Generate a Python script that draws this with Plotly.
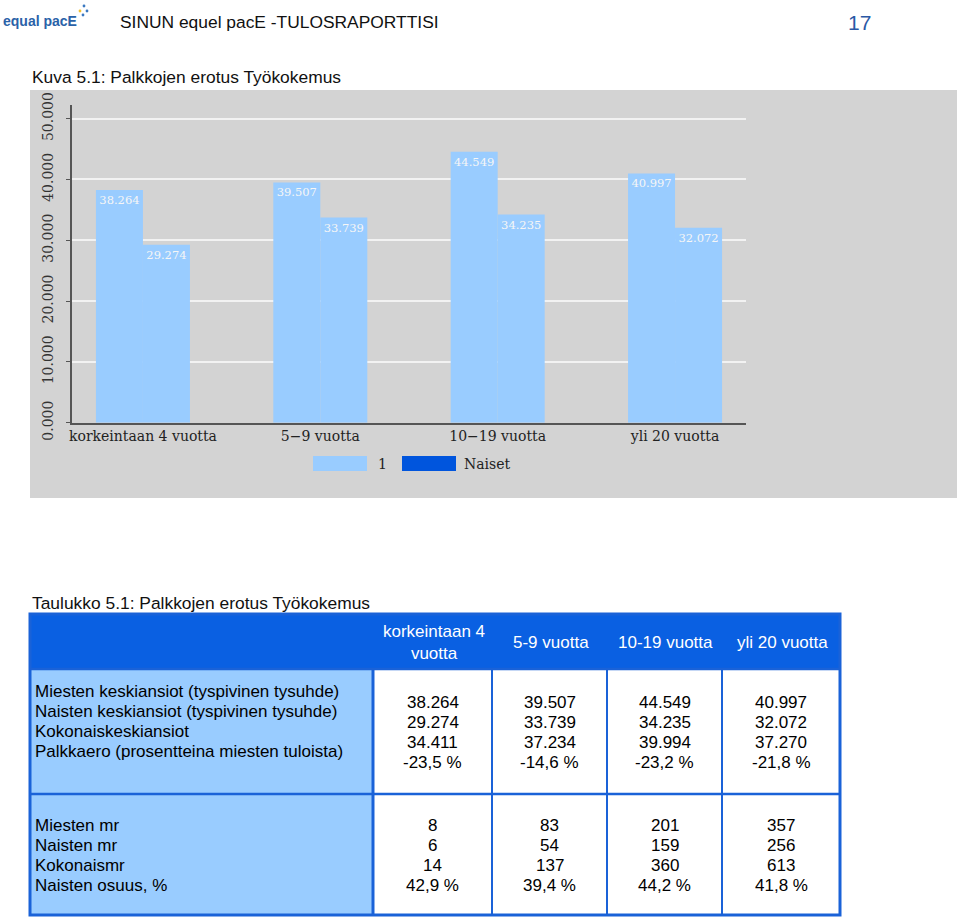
import plotly.graph_objects as go

# ---------------- data ----------------
categories = ["korkeintaan 4 vuotta", "5\u22129 vuotta", "10\u221219 vuotta", "yli 20 vuotta"]
table_headers = ["korkeintaan 4<br>vuotta", "5-9 vuotta", "10-19 vuotta", "yli 20 vuotta"]
series_names = ["1", "Naiset"]
men_pay = [38.264, 39.507, 44.549, 40.997]
women_pay = [29.274, 33.739, 34.235, 32.072]
total_pay = [34.411, 37.234, 39.994, 37.270]
pay_gap = [-23.5, -14.6, -23.2, -21.8]
men_n = [8, 83, 201, 357]
women_n = [6, 54, 159, 256]
total_n = [14, 137, 360, 613]
women_share = [42.9, 39.4, 44.2, 41.8]
row1_labels = ["Miesten keskiansiot (tyspivinen tysuhde)",
               "Naisten keskiansiot (tyspivinen tysuhde)",
               "Kokonaiskeskiansiot",
               "Palkkaero (prosentteina miesten tuloista)"]
row2_labels = ["Miesten mr", "Naisten mr", "Kokonaismr", "Naisten osuus, %"]

# ---------------- styles ----------------
W, H = 960, 922
BAR_COLOR = "#99ccff"
LEGEND_COLORS = ["#99ccff", "#0055dd"]
PANEL = "#d3d3d3"
HEAD_BLUE = "#0a60e2"
LINE_BLUE = "#1a62d8"
SERIF = "DejaVu Serif"
SANS = "Liberation Sans, Arial, sans-serif"
TFS = 17  # table font size


def X(px):
    return px / W


def Y(py):
    return 1 - py / H


def fmt_dec(v, d):
    return f"{v:.{d}f}".replace(".", ",")


fig = go.Figure()
for name, vals in zip(series_names, [men_pay, women_pay]):
    fig.add_trace(go.Bar(
        x=categories, y=vals, name=name, marker=dict(color=BAR_COLOR, line=dict(width=0)),
        text=[f"{v:.3f}" for v in vals], textposition="inside", insidetextanchor="end",
        constraintext="none", textangle=0,
        textfont=dict(family=SERIF, size=11.5, color="#f6f6f6"),
        showlegend=False, hoverinfo="skip"))

shapes = []
ann = []

# grey chart panel
shapes.append(dict(type="rect", xref="paper", yref="paper", x0=X(30), x1=X(957), y0=Y(498), y1=Y(90),
                   fillcolor=PANEL, line=dict(width=0), layer="below"))

# legend (manual)
leg = [(313, 367, 376), (402, 456, 462)]
for (a, b, t), name, col in zip(leg, series_names, LEGEND_COLORS):
    shapes.append(dict(type="rect", xref="paper", yref="paper", x0=X(a), x1=X(b), y0=Y(471), y1=Y(456),
                       fillcolor=col, line=dict(width=0)))
    ann.append(dict(x=X(t), y=Y(464), xref="paper", yref="paper", text=name, showarrow=False,
                    xanchor="left", yanchor="middle", font=dict(family=SERIF, size=14, color="#222")))

# page header
ann.append(dict(x=X(1), y=Y(21), xref="paper", yref="paper", text="<b>equal pacE</b>", showarrow=False,
                xanchor="left", yanchor="middle", font=dict(family=SANS, size=14, color="#2a62a8")))
for (cx, cy, col) in [(80, 11, "#f2c230"), (84, 6, "#3a78c0"), (87, 11, "#3a78c0"), (83, 15, "#3a78c0")]:
    shapes.append(dict(type="circle", xref="paper", yref="paper", x0=X(cx - 1.4), x1=X(cx + 1.4),
                       y0=Y(cy + 1.4), y1=Y(cy - 1.4), fillcolor=col, line=dict(width=0)))
ann.append(dict(x=X(118), y=Y(22), xref="paper", yref="paper", text="SINUN equel pacE -TULOSRAPORTTISI",
                showarrow=False, xanchor="left", yanchor="middle", font=dict(family=SANS, size=17.4, color="#111")))
ann.append(dict(x=X(859), y=Y(22), xref="paper", yref="paper", text="17", showarrow=False,
                xanchor="center", yanchor="middle", font=dict(family=SANS, size=21, color="#2a58a5")))
ann.append(dict(x=X(30), y=Y(77), xref="paper", yref="paper", text="Kuva 5.1: Palkkojen erotus Työkokemus",
                showarrow=False, xanchor="left", yanchor="middle", font=dict(family=SANS, size=17.4, color="#111")))
ann.append(dict(x=X(30), y=Y(603), xref="paper", yref="paper", text="Taulukko 5.1: Palkkojen erotus Työkokemus",
                showarrow=False, xanchor="left", yanchor="middle", font=dict(family=SANS, size=17.4, color="#111")))

# ---------------- table ----------------
cols = [30, 373, 492, 607, 722, 840]
rows = [614, 669, 794, 915]
shapes.append(dict(type="rect", xref="paper", yref="paper", x0=X(cols[0]), x1=X(cols[-1]),
                   y0=Y(rows[1]), y1=Y(rows[0]), fillcolor=HEAD_BLUE, line=dict(width=0)))
shapes.append(dict(type="rect", xref="paper", yref="paper", x0=X(cols[0]), x1=X(cols[1]),
                   y0=Y(rows[-1]), y1=Y(rows[1]), fillcolor="#99ccff", line=dict(width=0)))
for cx in cols[1:-1]:
    shapes.append(dict(type="line", xref="paper", yref="paper", x0=X(cx), x1=X(cx),
                       y0=Y(rows[-1]), y1=Y(rows[1]), line=dict(color=LINE_BLUE, width=2 if cx != cols[1] else 3)))
for ry in rows[1:-1]:
    shapes.append(dict(type="line", xref="paper", yref="paper", x0=X(cols[0]), x1=X(cols[-1]),
                       y0=Y(ry), y1=Y(ry), line=dict(color=LINE_BLUE, width=2.5)))
shapes.append(dict(type="rect", xref="paper", yref="paper", x0=X(cols[0]), x1=X(cols[-1]),
                   y0=Y(rows[-1]), y1=Y(rows[0]), line=dict(color=LINE_BLUE, width=3), fillcolor="rgba(0,0,0,0)"))

centers = [(cols[i] + cols[i + 1]) / 2 for i in range(1, 5)]
for c, h in zip(centers, table_headers):
    ann.append(dict(x=X(c + 1), y=Y(642), xref="paper", yref="paper", text=h, showarrow=False,
                    xanchor="center", yanchor="middle", font=dict(family=SANS, size=TFS, color="white")))

LS = 20.3
for i, lab in enumerate(row1_labels):
    ann.append(dict(x=X(33), y=Y(691 + i * LS), xref="paper", yref="paper", text=lab, showarrow=False,
                    xanchor="left", yanchor="middle", font=dict(family=SANS, size=TFS, color="black")))
for i, lab in enumerate(row2_labels):
    ann.append(dict(x=X(33), y=Y(825 + i * LS), xref="paper", yref="paper", text=lab, showarrow=False,
                    xanchor="left", yanchor="middle", font=dict(family=SANS, size=TFS, color="black")))

for j, c in enumerate(centers):
    r1 = [f"{men_pay[j]:.3f}", f"{women_pay[j]:.3f}", f"{total_pay[j]:.3f}", fmt_dec(pay_gap[j], 1) + " %"]
    r2 = [str(men_n[j]), str(women_n[j]), str(total_n[j]), fmt_dec(women_share[j], 1) + " %"]
    for i, t in enumerate(r1):
        ann.append(dict(x=X(c), y=Y(702 + i * LS), xref="paper", yref="paper", text=t, showarrow=False,
                        xanchor="center", yanchor="middle", font=dict(family=SANS, size=TFS, color="black")))
    for i, t in enumerate(r2):
        ann.append(dict(x=X(c), y=Y(825 + i * LS), xref="paper", yref="paper", text=t, showarrow=False,
                        xanchor="center", yanchor="middle", font=dict(family=SANS, size=TFS, color="black")))

# ---------------- layout ----------------
fig.update_layout(
    width=W, height=H, margin=dict(l=0, r=0, t=0, b=0, pad=0, autoexpand=False),
    paper_bgcolor="white", plot_bgcolor="rgba(0,0,0,0)",
    barmode="group", bargap=0.47, bargroupgap=0,
    showlegend=False,
    shapes=shapes, annotations=ann,
    xaxis=dict(domain=[X(72), X(746)], range=[-0.4, 3.4], showgrid=False, automargin=False,
               showline=True, linecolor="#555", linewidth=1.5, ticks="", zeroline=False,
               tickfont=dict(family=SERIF, size=14, color="#222"), fixedrange=True),
    yaxis=dict(domain=[Y(422.7), Y(105)], range=[0, 52.25], dtick=10, tickformat=".3f", automargin=False,
               showgrid=True, gridcolor="#f2f2f2", gridwidth=1.5, zeroline=False,
               showline=True, linecolor="#555", linewidth=1.5, ticks="outside", ticklen=4,
               tickcolor="#555", tickangle=-90, ticklabelstandoff=8,
               tickfont=dict(family=SERIF, size=14, color="#333"), fixedrange=True),
)

fig.write_html("out.html")
